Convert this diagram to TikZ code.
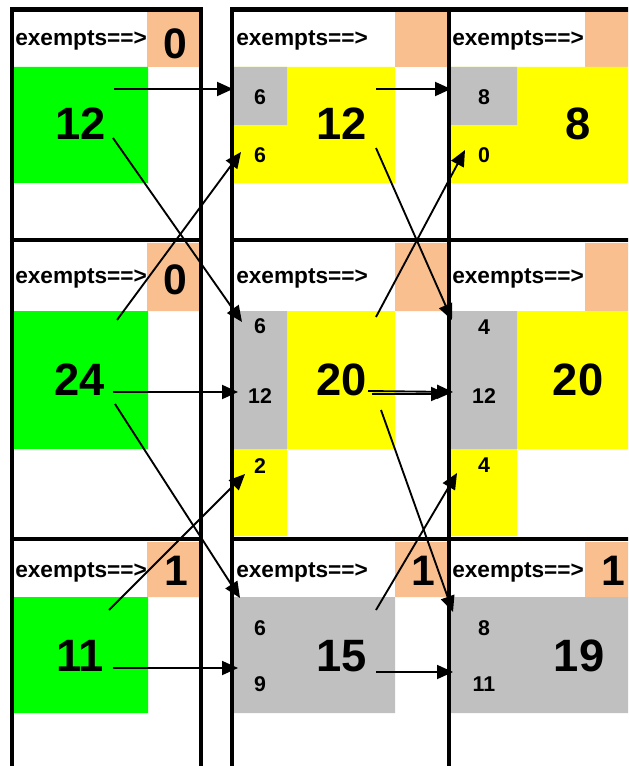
\documentclass[tikz,border=0pt]{standalone}
\usepackage{fontspec}
\setmainfont{Liberation Sans}
\usetikzlibrary{arrows.meta}
\definecolor{salmon}{RGB}{250,191,143}
\definecolor{xlgreen}{RGB}{0,255,0}
\definecolor{xlyellow}{RGB}{255,255,0}
\definecolor{xlgray}{RGB}{192,192,192}

\begin{document}
\begin{tikzpicture}[x=0.75pt,y=-0.75pt,
  rule/.style={line width=3.2pt},
  hdr/.style={anchor=base west,inner sep=0pt,font=\bfseries\fontsize{17}{19}\selectfont},
  cnt/.style={inner sep=0pt,font=\bfseries\fontsize{32}{35}\selectfont},
  big/.style={inner sep=0pt,font=\bfseries\fontsize{34}{37}\selectfont},
  small/.style={inner sep=0pt,font=\bfseries\fontsize{16}{18}\selectfont},
  arr/.style={-{Triangle[length=12pt,width=10.5pt]},line width=1.4pt}]
\clip (0,0) rectangle (628,766);

% cell fills
\fill[salmon] (147,12) rectangle (199,67) (395,12) rectangle (447,67) (585,12) rectangle (640,67);
\fill[salmon] (147,243) rectangle (199,311) (395,243) rectangle (447,311) (585,243) rectangle (640,311);
\fill[salmon] (147,542) rectangle (199,597) (395,542) rectangle (447,597) (585,542) rectangle (640,597);
\fill[xlgreen] (14,67) rectangle (148,183) (14,311) rectangle (148,449) (14,597) rectangle (148,713);
\fill[xlyellow] (234,67) rectangle (395,183) (451,67) rectangle (640,183);
\fill[xlgray] (234,67) rectangle (287,125) (451,67) rectangle (517,125);
\fill[xlyellow] (287,311) rectangle (395,449) (234,449) rectangle (287,536);
\fill[xlyellow] (517,311) rectangle (640,449) (451,449) rectangle (517,536);
\fill[xlgray] (234,311) rectangle (287,449) (451,311) rectangle (517,449);
\fill[xlgray] (234,597) rectangle (395,713) (451,597) rectangle (640,713);

% frames
\draw[rule] (12,766) -- (12,9.5) -- (201,9.5) -- (201,766);
\draw[rule] (12,240) -- (201,240) (12,539) -- (201,539);
\draw[rule] (232,766) -- (232,9.5) -- (640,9.5) (449,9.5) -- (449,766);
\draw[rule] (232,240) -- (640,240) (232,539) -- (640,539);

% headers
\node[hdr] (h11) at (15,46) {exempts==>};
\node[hdr] (h12) at (15,283) {exempts==>};
\node[hdr] (h13) at (15,577) {exempts==>};
\node[hdr] (h21) at (236,46) {exempts==>};
\node[hdr] (h22) at (236,283) {exempts==>};
\node[hdr] (h23) at (236,577) {exempts==>};
\node[hdr] (h31) at (452,46) {exempts==>};
\node[hdr] (h32) at (452,283) {exempts==>};
\node[hdr] (h33) at (452,577) {exempts==>};
\node[cnt] (e11) at (175,43.5) {0};
\node[cnt] (e12) at (175,280) {0};
\node[cnt] (e13) at (176,570.5) {1};
\node[cnt] (e23) at (423,570.5) {1};
\node[cnt] (e33) at (613,570.5) {1};

% big numbers
\node[big] (n11) at (81,124) {12};
\node[big] (n12) at (80,380) {24};
\node[big] (n13) at (80,656) {11};
\node[big] (n21) at (342,124) {12};
\node[big] (n22) at (342,380) {20};
\node[big] (n23) at (342,656) {15};
\node[big] (n31) at (578,124) {8};
\node[big] (n32) at (578,380) {20};
\node[big] (n33) at (579,656) {19};

% small numbers
\node[small] (s21a) at (260,97) {6};
\node[small] (s21b) at (260,155) {6};
\node[small] (s22a) at (260,326.5) {6};
\node[small] (s22b) at (260,396.5) {12};
\node[small] (s22c) at (260,466) {2};
\node[small] (s23a) at (260,628) {6};
\node[small] (s23b) at (260,684.5) {9};
\node[small] (s31a) at (484,97) {8};
\node[small] (s31b) at (484,155) {0};
\node[small] (s32a) at (484,327) {4};
\node[small] (s32b) at (484,396) {12};
\node[small] (s32c) at (484,465) {4};
\node[small] (s33a) at (484,628) {8};
\node[small] (s33b) at (484,684.5) {11};

% arrow ends
\coordinate (t1) at (114,89);   \coordinate (a1) at (233,89);
\coordinate (t2) at (113,138);  \coordinate (a2) at (242,322);
\coordinate (t3) at (117,320);  \coordinate (a3) at (241,152);
\coordinate (t4) at (113,392);  \coordinate (a4) at (238,392);
\coordinate (t5) at (115,404);  \coordinate (a5) at (240,598);
\coordinate (t6) at (109,610);  \coordinate (a6) at (245,474);
\coordinate (t7) at (113,668);  \coordinate (a7) at (238,668);
\coordinate (t8) at (376,89);   \coordinate (a8) at (451,89);
\coordinate (t9) at (376,148);  \coordinate (a9) at (452,320);
\coordinate (t10) at (376,317); \coordinate (a10) at (465,150);
\coordinate (t11) at (368,391); \coordinate (a11) at (453,392);
\coordinate (t12) at (372,394); \coordinate (a12) at (447,394);
\coordinate (t13) at (381,410); \coordinate (a13) at (453,612);
\coordinate (t14) at (376,610); \coordinate (a14) at (457,473);
\coordinate (t15) at (376,672); \coordinate (a15) at (453,672);
\foreach \i in {1,...,15}
  \draw[arr] (t\i) -- (a\i);
\end{tikzpicture}
\end{document}
